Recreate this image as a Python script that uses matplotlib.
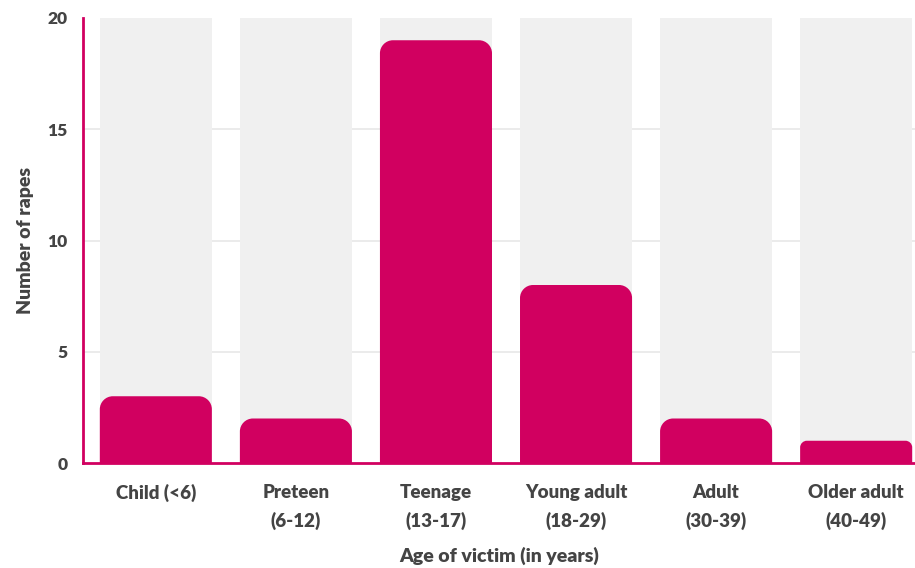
import matplotlib
matplotlib.use('Agg')
import matplotlib.pyplot as plt
from matplotlib.path import Path
from matplotlib.patches import PathPatch

# data
categories = ['Child (<6)', 'Preteen\n(6-12)', 'Teenage\n(13-17)',
              'Young adult\n(18-29)', 'Adult\n(30-39)', 'Older adult\n(40-49)']
counts = [3, 2, 19, 8, 2, 1]
y_ticks = [0, 5, 10, 15, 20]

pink = '#d10060'
text_col = '#444444'
band_col = '#f0f0f0'

plt.rcParams['font.family'] = ['Lato', 'DejaVu Sans']
plt.rcParams['font.weight'] = 'bold'

fig = plt.figure(figsize=(9.15, 5.68), dpi=100)
ax = fig.add_axes([83 / 915, 105 / 568, 832 / 915, 445 / 568])

x = list(range(len(categories)))
ax.set_xlim(-0.52, 5.42)
ax.set_ylim(0, 20)

# grey column bands behind each bar
ax.bar(x, [20] * len(x), width=0.8, color=band_col, zorder=1)
# light grid lines
for t in y_ticks[1:-1]:
    ax.axhline(t, color='#e8e8e8', lw=1.2, zorder=0.5)

bars = ax.bar(x, counts, width=0.8, color=pink, zorder=2)

# swap the plain rectangles for ones with rounded top corners
fig.canvas.draw()
px_x = ax.transData.transform((1, 0))[0] - ax.transData.transform((0, 0))[0]
px_y = ax.transData.transform((0, 1))[1] - ax.transData.transform((0, 0))[1]
for rect in bars:
    x0, y0 = rect.get_x(), rect.get_y()
    w, h = rect.get_width(), rect.get_height()
    r_px = min(13, h * px_y * 0.3)
    rx, ry = r_px / px_x, r_px / px_y
    k = 0.55
    verts = [(x0, y0), (x0, y0 + h - ry),
             (x0, y0 + h - ry * (1 - k)), (x0 + rx * (1 - k), y0 + h), (x0 + rx, y0 + h),
             (x0 + w - rx, y0 + h),
             (x0 + w - rx * (1 - k), y0 + h), (x0 + w, y0 + h - ry * (1 - k)), (x0 + w, y0 + h - ry),
             (x0 + w, y0), (x0, y0)]
    codes = [Path.MOVETO, Path.LINETO,
             Path.CURVE4, Path.CURVE4, Path.CURVE4,
             Path.LINETO,
             Path.CURVE4, Path.CURVE4, Path.CURVE4,
             Path.LINETO, Path.CLOSEPOLY]
    ax.add_patch(PathPatch(Path(verts, codes), facecolor=pink, edgecolor='none', zorder=3))
    rect.set_visible(False)

for s in ['top', 'right']:
    ax.spines[s].set_visible(False)
for s in ['left', 'bottom']:
    ax.spines[s].set_color(pink)
    ax.spines[s].set_linewidth(2)
    ax.spines[s].set_zorder(2.5)

ax.set_yticks(y_ticks)
ax.set_yticklabels([str(t) for t in y_ticks], fontsize=12.5, color=text_col, fontweight='heavy')
ax.set_xticks(x)
ax.set_xticklabels(categories, fontsize=13.5, color=text_col, fontweight='heavy',
                   linespacing=1.75, va='top')
ax.tick_params(axis='both', length=0)
ax.tick_params(axis='y', pad=11)
ax.tick_params(axis='x', pad=15)

ax.set_ylabel('Number of rapes', fontsize=14, color=text_col, fontweight='heavy', labelpad=10)
ax.set_xlabel('Age of victim (in years)', fontsize=14, color=text_col, fontweight='heavy', labelpad=12)

fig.savefig('out.png', dpi=100)
